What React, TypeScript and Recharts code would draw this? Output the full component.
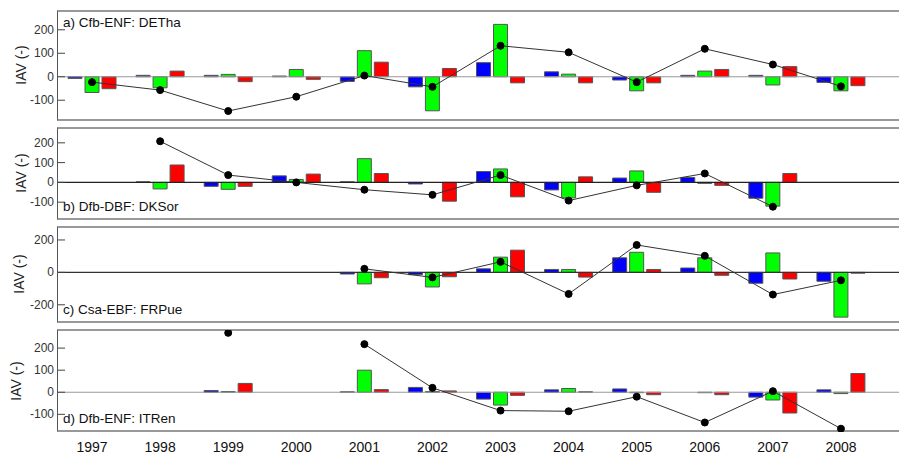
import { Bar, ComposedChart, Line, ReferenceLine, XAxis, YAxis } from 'recharts';

const years = ['1997', '1998', '1999', '2000', '2001', '2002', '2003', '2004', '2005', '2006', '2007', '2008'];

// a) Cfb-ENF: DETha
const aBlue = [-7, 6, 6, 3, -20, -43, 60, 21, -14, 6, 6, -24];
const aGreen = [-67, -47, 10, 31, 111, -145, 223, 11, -60, 24, -35, -60];
const aRed = [-51, 24, -21, -11, 62, 35, -26, -26, -26, 31, 43, -38];
const aTotal = [-23, -57, -146, -85, 5, -43, 132, 104, -23, 119, 52, -41];

// b) Dfb-DBF: DKSor
const bBlue = [null, 3, -20, 33, 3, -8, 55, -38, 22, 25, -80, null];
const bGreen = [null, -33, -35, 15, 120, null, 68, -78, 58, -5, -120, null];
const bRed = [null, 88, -20, 42, 45, -95, -73, 28, -50, -15, 45, null];
const bTotal = [null, 208, 37, 0, -37, -63, 37, -92, -15, 45, -123, null];

// c) Csa-EBF: FRPue
const cBlue = [null, null, null, null, -10, -14, 22, 18, 90, 27, -67, -55];
const cGreen = [null, null, null, null, -71, -90, 94, 18, 124, 90, 120, -276];
const cRed = [null, null, null, null, -33, -27, 137, -29, 18, -18, -41, -5];
const cTotal = [null, null, null, null, 22, -31, 65, -133, 169, 102, -137, -49];

// d) Dfb-ENF: ITRen
const dBlue = [null, null, 8, null, 2, 22, -31, 11, 15, null, -22, 11];
const dGreen = [null, null, 3, null, 100, 3, -58, 17, -2, -2, -35, -6];
const dRed = [null, null, 40, null, 12, 6, -14, 2, -11, -11, -94, 85];
const dTotal = [null, null, 269, null, 218, 20, -83, -86, -20, -137, 5, -165];

type Series = (number | null)[];

const FONT = '"Liberation Sans", Arial, sans-serif';

function buildRows(blue: Series, green: Series, red: Series, total: Series) {
  return years.map((year, i) => ({ year, blue: blue[i], green: green[i], red: red[i], total: total[i] }));
}

function YTick({ x, y, payload }: any) {
  return (
    <g>
      <text x={x} y={y} dy={4} textAnchor='end' fontSize={12} fill='#333' fontFamily={FONT}>
        {payload.value}
      </text>
      <line x1={x + 4} x2={x + 11} y1={y} y2={y} stroke='#444' />
    </g>
  );
}

function SideLabel({ viewBox, cx }: any) {
  const top = viewBox ? viewBox.y : 0;
  const h = viewBox ? viewBox.height : 0;
  const cy = top + h / 2;
  return (
    <text
      x={cx}
      y={cy}
      transform={`rotate(-90 ${cx} ${cy})`}
      textAnchor='middle'
      dominantBaseline='central'
      fontSize={14}
      fill='#222'
      fontFamily={FONT}
    >
      IAV (-)
    </text>
  );
}

interface PanelProps {
  title: string;
  titleTop: boolean;
  rows: ReturnType<typeof buildRows>;
  top: number;
  bottom: number;
  domain: [number, number];
  ticks: number[];
  zeroColor: string;
  labelX: number;
  showYears?: boolean;
}

function Panel({ title, titleTop, rows, top, bottom, domain, ticks, zeroColor, labelX, showYears }: PanelProps) {
  const pad = 2;
  const axisH = showYears ? 22 : 0;
  const height = bottom - top + pad * 2 + axisH;
  return (
    <>
      <div
        style={{
          position: 'absolute',
          left: 57,
          top: top - 1,
          width: 842,
          height: bottom - top - 1,
          borderTop: '2px solid #999',
          borderBottom: '2px solid #999',
          borderLeft: '1px solid #555',
        }}
      />
      <div style={{ position: 'absolute', left: 0, top: top - pad }}>
        <ComposedChart
          width={899}
          height={height}
          data={rows}
          margin={{ top: pad, right: 0, bottom: showYears ? 0 : pad, left: 0 }}
          barCategoryGap={10}
          barGap={3}
        >
          <XAxis
            dataKey='year'
            hide={!showYears}
            padding={{ left: 0, right: 24 }}
            axisLine={false}
            tickLine={false}
            tickSize={0}
            tickMargin={10}
            height={axisH}
            interval={0}
            tick={{ fontSize: 14, fill: '#111', fontFamily: FONT }}
          />
          <YAxis
            type='number'
            domain={domain}
            ticks={ticks}
            interval={0}
            width={58}
            axisLine={false}
            tickLine={false}
            tickSize={4}
            tickMargin={0}
            tick={<YTick />}
            allowDataOverflow
            label={<SideLabel cx={labelX} />}
          />
          <ReferenceLine y={0} stroke={zeroColor} strokeWidth={1.2} />
          <Bar dataKey='blue' fill='#0000ff' stroke='#555' strokeWidth={1} isAnimationActive={false} />
          <Bar dataKey='green' fill='#00ff00' stroke='#555' strokeWidth={1} isAnimationActive={false} />
          <Bar dataKey='red' fill='#ff0000' stroke='#555' strokeWidth={1} isAnimationActive={false} />
          <Line
            dataKey='total'
            type='linear'
            stroke='#333'
            strokeWidth={1}
            dot={{ r: 3.5, fill: '#000', stroke: '#000', strokeWidth: 1 }}
            activeDot={false}
            isAnimationActive={false}
          />
        </ComposedChart>
      </div>
      <div
        style={{
          position: 'absolute',
          left: 63,
          top: titleTop ? top + 4 : bottom - 19,
          fontSize: 13.5,
          fontFamily: FONT,
          color: '#111',
          whiteSpace: 'nowrap',
        }}
      >
        {title}
      </div>
    </>
  );
}

export default function App() {
  return (
    <div style={{ position: 'absolute', left: 0, top: 0, width: 899, height: 454, background: '#fff', overflow: 'hidden' }}>
      <Panel
        title='a) Cfb-ENF: DETha'
        titleTop
        rows={buildRows(aBlue, aGreen, aRed, aTotal)}
        top={11}
        bottom={119}
        domain={[-180, 280]}
        ticks={[-100, 0, 100, 200]}
        zeroColor='#999'
        labelX={21}
      />
      <Panel
        title='b) Dfb-DBF: DKSor'
        titleTop={false}
        rows={buildRows(bBlue, bGreen, bRed, bTotal)}
        top={128}
        bottom={218}
        domain={[-180, 275]}
        ticks={[-100, 0, 100, 200]}
        zeroColor='#222'
        labelX={21}
      />
      <Panel
        title='c) Csa-EBF: FRPue'
        titleTop={false}
        rows={buildRows(cBlue, cGreen, cRed, cTotal)}
        top={227}
        bottom={321}
        domain={[-300, 280]}
        ticks={[-200, 0, 200]}
        zeroColor='#333'
        labelX={19}
      />
      <Panel
        title='d) Dfb-ENF: ITRen'
        titleTop={false}
        rows={buildRows(dBlue, dGreen, dRed, dTotal)}
        top={330}
        bottom={430}
        domain={[-180, 282]}
        ticks={[-100, 0, 100, 200]}
        zeroColor='#999'
        labelX={16}
        showYears
      />
    </div>
  );
}
